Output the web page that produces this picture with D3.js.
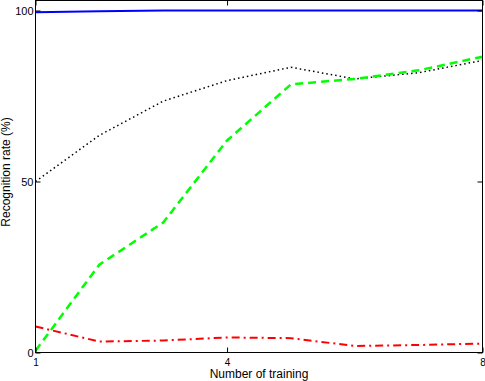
<!DOCTYPE html>
<html><head><meta charset="utf-8">
<script src="https://cdn.jsdelivr.net/npm/d3@7"></script>
<style>body{margin:0;background:#fff}svg{display:block}text{font-family:"Liberation Sans",Arial,sans-serif;fill:#000}</style>
</head><body><svg id="c" width="485" height="381"></svg>
<script>
const xs = [1,2,3,4,5,6,7,8];
const blueVals  = [99.5, 99.8, 100, 100, 100, 100, 100, 100];
const blackVals = [50, 63.5, 73.5, 79.5, 83.4, 80, 81.8, 85.4];
const greenVals = [0.5, 25.7, 38, 62, 78.4, 80, 82.5, 86.5];
const redVals   = [7.6, 3.2, 3.5, 4.4, 4.2, 1.9, 2.2, 2.6];
const xTicks = [1,4,8];
const yTicks = [0,50,100];
const xLabel = "Number of training";
const yLabel = "Recognition rate (%)";

const svg = d3.select("#c");
const L=35.5, R=482.5, T=0.5, B=352.5;
const x = d3.scaleLinear().domain([1,8]).range([L,R]);
const y = d3.scaleLinear().domain([0,100]).range([B,10.5]);

const series = [
  {v:blackVals, c:"#000", w:1.5, d:"1.5,3"},
  {v:greenVals, c:"#00ff00", w:2.5, d:"8,5"},
  {v:redVals, c:"#ff0000", w:2, d:"8,4,2,4"},
  {v:blueVals, c:"#0000ff", w:2, d:null}
];
const line = d3.line().x((d,i)=>x(xs[i])).y(d=>y(d));
svg.append("g").selectAll("path").data(series).join("path")
  .attr("d",s=>line(s.v)).attr("fill","none").attr("stroke",s=>s.c)
  .attr("stroke-width",s=>s.w).attr("stroke-dasharray",s=>s.d);

svg.append("rect").attr("x",L).attr("y",T).attr("width",R-L).attr("height",B-T)
  .attr("fill","none").attr("stroke","#000").attr("stroke-width",1);

const ax = d3.axisBottom(x).tickValues(xTicks).tickSize(-5).tickFormat(d3.format("d"));
const gx = svg.append("g").attr("transform",`translate(0,${B})`).call(ax);
gx.select(".domain").remove();
gx.selectAll("text").attr("font-size",10).attr("dy","0.71em").attr("y",6);
const axT = d3.axisTop(x).tickValues(xTicks).tickSize(-5).tickFormat("");
const gxt = svg.append("g").attr("transform",`translate(0,${T})`).call(axT);
gxt.select(".domain").remove();

const ay = d3.axisLeft(y).tickValues(yTicks).tickSize(-5).tickFormat(d3.format("d"));
const gy = svg.append("g").attr("transform",`translate(${L},0)`).call(ay);
gy.select(".domain").remove();
gy.selectAll("text").attr("font-size",11).attr("x",-2);
const ayR = d3.axisRight(y).tickValues(yTicks).tickSize(-5).tickFormat("");
const gyr = svg.append("g").attr("transform",`translate(${R},0)`).call(ayR);
gyr.select(".domain").remove();
svg.selectAll(".tick line").attr("stroke","#000");
svg.selectAll(".tick text").attr("font-family","Liberation Sans, Arial, sans-serif").attr("fill","#000");

svg.append("text").attr("x",(L+R)/2).attr("y",378).attr("text-anchor","middle")
  .attr("font-size",12).text(xLabel);
svg.append("text").attr("transform","translate(10,172) rotate(-90)").attr("text-anchor","middle")
  .attr("font-size",12).text(yLabel);
</script></body></html>
